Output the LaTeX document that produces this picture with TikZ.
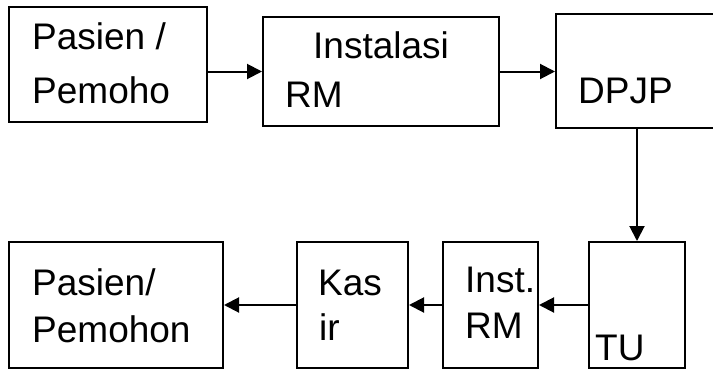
\documentclass[tikz,border=0pt]{standalone}
\usepackage{fontspec}
\setmainfont{Liberation Sans}
\usetikzlibrary{arrows.meta}
\begin{document}
\begin{tikzpicture}[x=1pt,y=-1pt,
  box/.style={draw=black,line width=2pt,rectangle,inner sep=0pt},
  txt/.style={anchor=base west,inner sep=0pt,font=\fontsize{37}{37}\selectfont},
  arr/.style={line width=2pt,-{Triangle[length=15pt,width=15pt]}}]
\useasboundingbox (0,0) rectangle (713,370);
% top row boxes
\node[box,minimum width=198pt,minimum height=115pt] (b1) at (108,64.5) {};
\node[box,minimum width=236pt,minimum height=109pt] (b2) at (381,71.5) {};
\node[box,minimum width=169pt,minimum height=114pt] (b3) at (640.5,71) {};
% bottom row boxes
\node[box,minimum width=214pt,minimum height=126pt] (b4) at (116,305) {};
\node[box,minimum width=111pt,minimum height=126pt] (b5) at (352.5,305) {};
\node[box,minimum width=95pt,minimum height=126pt] (b6) at (490.5,305) {};
\node[box,minimum width=96pt,minimum height=126pt] (b7) at (637,305) {};
% texts
\node[txt] (t1a) at (32,49) {Pasien /};
\node[txt] (t1b) at (32,103) {Pemoho};
\node[txt] (t2a) at (313,58) {Instalasi};
\node[txt] (t2b) at (285,107) {RM};
\node[txt] (t3) at (578,103) {DPJP};
\node[txt] (t4a) at (32,295) {Pasien/};
\node[txt] (t4b) at (32,342) {Pemohon};
\node[txt] (t5a) at (318,295) {Kas};
\node[txt] (t5b) at (319,340) {ir};
\node[txt] (t6a) at (465,292) {Inst.};
\node[txt] (t6b) at (465,338) {RM};
\node[txt] (t7) at (595,360) {TU};
% connectors
\draw[arr] (b1.east |- b2.west) -- (b2.west);
\draw[arr] (b2.east) -- (b3.west |- b2.east);
\draw[arr] (b7.north |- b3.south) -- (b7.north);
\draw[arr] (b7.west) -- (b6.east);
\draw[arr] (b6.west) -- (b5.east);
\draw[arr] (b5.west) -- (b4.east);
\end{tikzpicture}
\end{document}
